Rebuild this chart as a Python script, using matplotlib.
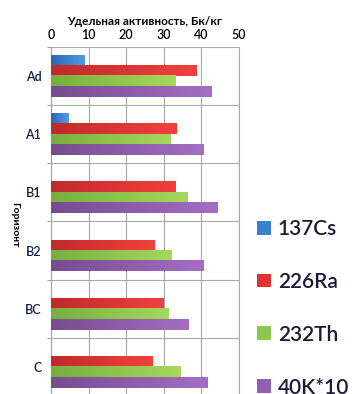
import numpy as np
import matplotlib
matplotlib.use("Agg")
import matplotlib.pyplot as plt
from matplotlib.colors import LinearSegmentedColormap
from matplotlib.patches import Patch

# soil horizons, top to bottom
horizons = ["Ad", "A1", "B1", "B2", "BC", "C"]
series = ["137Cs", "226Ra", "232Th", "40K*10"]

cs137 = [9.0, 4.6, 0.0, 0.0, 0.0, 0.0]
ra226 = [38.7, 33.5, 33.2, 27.5, 30.0, 26.9]
th232 = [33.2, 31.9, 36.2, 32.0, 31.3, 34.4]
k40x10 = [42.6, 40.5, 44.4, 40.5, 36.6, 41.7]

# (dark, light) gradient ends and legend swatch colour for each series
shades = [("#2a66b0", "#4c9ee6", "#3a80d0"),
          ("#c02a2a", "#f24040", "#e03232"),
          ("#78ae3e", "#a6d85e", "#8cc850"),
          ("#764c8e", "#a56ec4", "#9060b0")]

plt.rcParams['font.family'] = ['Lato', 'DejaVu Sans']

fig = plt.figure(figsize=(3.58, 3.94), dpi=100)
ax = fig.add_axes([0.1425, -0.005, 0.525, 0.886])

y = np.arange(len(horizons))
h = 0.18
offsets = [-1.5 * h, -0.5 * h, 0.5 * h, 1.5 * h]
grad = np.linspace(0, 1, 256).reshape(1, -1)

for vals, off, (dark, light, _) in zip([cs137, ra226, th232, k40x10], offsets, shades):
    bars = ax.barh(y + off, vals, height=h, color="none", edgecolor="none", zorder=3)
    cmap = LinearSegmentedColormap.from_list("g", [dark, light])
    for b in bars:
        w = b.get_width()
        if w <= 0:
            continue
        y0 = b.get_y()
        ax.imshow(grad, cmap=cmap, aspect="auto", zorder=3,
                  extent=[0, w, y0 + b.get_height(), y0], interpolation="bilinear")

ax.set_xlim(0, 50)
ax.set_ylim(len(horizons) - 0.5, -0.5)
ax.set_xticks(np.arange(0, 51, 10))
ax.xaxis.tick_top()
ax.set_yticks(y)
ax.set_yticklabels(horizons)
ax.set_yticks(np.arange(-0.5, len(horizons)), minor=True)
ax.tick_params(axis="x", length=0, labelsize=9, pad=4, colors="#000000")
ax.tick_params(axis="y", which="major", length=0, labelsize=9, pad=7, labelcolor="#10204a")
ax.tick_params(axis="y", which="minor", length=3, width=0.8, color="#a0a0a0")
for lbl in ax.get_xticklabels() + ax.get_yticklabels():
    lbl.set_fontweight("semibold")
ax.grid(axis="x", color="#a8a8a8", linewidth=0.8, zorder=0)
ax.grid(axis="y", which="minor", color="#a8a8a8", linewidth=0.8, zorder=0)
for side in ["top", "bottom"]:
    ax.spines[side].set_visible(False)
ax.spines["left"].set_color("#a0a0a0")
ax.spines["right"].set_color("#a8a8a8")
ax.spines["left"].set_linewidth(0.8)
ax.spines["right"].set_linewidth(0.8)

ax.set_xlabel("Удельная активность, Бк/кг", fontsize=8.5, fontweight="bold", labelpad=3)
ax.xaxis.set_label_position("top")
fig.text(0.042, 0.43, "Горизонт", rotation=270, fontsize=7.5, fontweight="bold",
         ha="center", va="center")

handles = [Patch(facecolor=c, edgecolor="none") for _, _, c in shades]
fig.legend(handles, series, loc="upper left", bbox_to_anchor=(0.665, 0.492),
           frameon=False, prop={"size": 15, "weight": "semibold"},
           labelspacing=1.58, handlelength=0.7, handleheight=0.65,
           handletextpad=0.3, labelcolor="#1a1a3a")

fig.savefig("out.png", dpi=100)
